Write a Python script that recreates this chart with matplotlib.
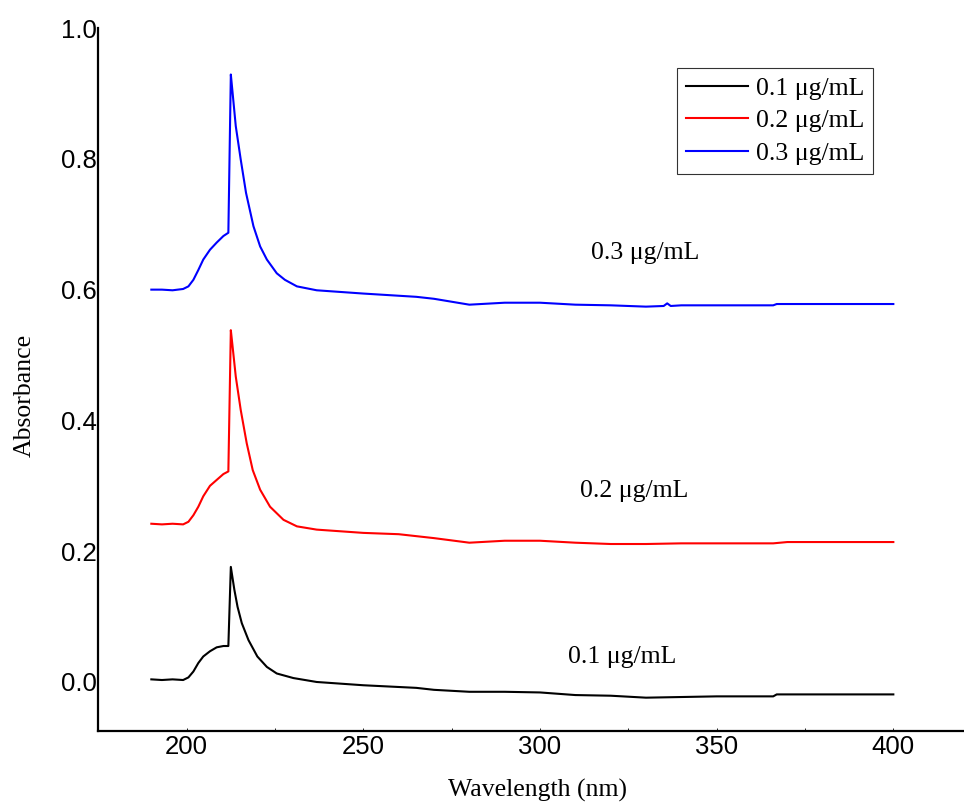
import numpy as np
import matplotlib.pyplot as plt
from matplotlib.ticker import MultipleLocator

# Wavelength (nm) / absorbance
wl_01 = [190, 193, 196, 199, 200.5, 201.9, 203.3, 204.7, 206.6, 208.5, 210.4, 211.8,
         212.5, 213.5, 214.4, 215.6, 217.5, 220.0, 222.7, 225.5, 230.2, 236.8, 250,
         265, 270, 280, 290, 300, 310, 320, 330, 340, 350, 366, 367, 400]
abs_01 = [0.004, 0.003, 0.004, 0.003, 0.007, 0.016, 0.029, 0.039, 0.047, 0.053, 0.055,
          0.055, 0.176, 0.141, 0.115, 0.090, 0.064, 0.039, 0.023, 0.013, 0.006, 0.000,
          -0.005, -0.009, -0.012, -0.015, -0.015, -0.016, -0.020, -0.021, -0.024,
          -0.023, -0.022, -0.022, -0.019, -0.019]

wl_02 = [190, 193, 196, 199, 200.5, 201.9, 203.3, 204.7, 206.6, 208.5, 210.4, 211.8,
         212.5, 212.9, 213.9, 215.3, 217.0, 218.7, 220.8, 223.6, 227.4, 231.2, 236.8,
         250, 260, 270, 280, 290, 300, 310, 320, 330, 340, 350, 366, 370, 400]
abs_02 = [0.242, 0.241, 0.242, 0.241, 0.245, 0.255, 0.268, 0.284, 0.300, 0.309, 0.318,
          0.322, 0.538, 0.518, 0.467, 0.416, 0.365, 0.324, 0.294, 0.268, 0.248, 0.238,
          0.233, 0.228, 0.226, 0.220, 0.213, 0.216, 0.216, 0.213, 0.211, 0.211, 0.212,
          0.212, 0.212, 0.214, 0.214]

wl_03 = [190, 193, 196, 199, 200.5, 201.9, 203.3, 204.7, 206.6, 208.5, 210.4, 211.8,
         212.5, 213.0, 213.9, 215.3, 216.8, 218.9, 220.8, 222.7, 225.5, 227.8, 231.2,
         236.8, 250, 265, 270, 280, 290, 300, 310, 320, 330, 335, 336, 337, 340, 350,
         366, 367, 400]
abs_03 = [0.600, 0.600, 0.599, 0.601, 0.605, 0.615, 0.630, 0.646, 0.661, 0.672, 0.682,
          0.687, 0.929, 0.901, 0.850, 0.799, 0.748, 0.697, 0.666, 0.646, 0.625, 0.615,
          0.605, 0.599, 0.594, 0.589, 0.586, 0.577, 0.580, 0.580, 0.577, 0.576, 0.574,
          0.575, 0.579, 0.575, 0.576, 0.576, 0.576, 0.578, 0.578]

labels = ["0.1 μg/mL", "0.2 μg/mL", "0.3 μg/mL"]
colors = ["black", "red", "blue"]
# where each curve's name is written (wavelength, absorbance)
label_pos = [(323.3, 0.038), (326.7, 0.292), (329.8, 0.656)]

serif = ["Liberation Serif", "DejaVu Serif"]
sans = ["Liberation Sans", "DejaVu Sans"]

fig = plt.figure(figsize=(9.64, 8.02), dpi=100)
ax = fig.add_axes([0.102, 0.0885, 0.898, 0.8765])

for x, y, lab, c in zip([wl_01, wl_02, wl_03], [abs_01, abs_02, abs_03], labels, colors):
    ax.plot(x, y, color=c, lw=1.5, label=lab)

ax.set_xlim(175, 420)
ax.set_ylim(-0.075, 1.0)
ax.xaxis.set_major_locator(MultipleLocator(50))
ax.xaxis.set_minor_locator(MultipleLocator(25))
ax.yaxis.set_major_locator(MultipleLocator(0.2))
ax.yaxis.set_major_formatter(plt.FormatStrFormatter("%.1f"))

for s in ["top", "right"]:
    ax.spines[s].set_visible(False)
for s in ["left", "bottom"]:
    ax.spines[s].set_linewidth(1.6)

ax.tick_params(axis="x", which="both", direction="in", length=2.5, width=0.6, pad=3)
ax.tick_params(axis="y", which="both", length=0, pad=1)
for t in ax.get_xticklabels() + ax.get_yticklabels():
    t.set_fontfamily(sans)
    t.set_fontsize(18.5)

ax.set_xlabel("Wavelength (nm)", family=serif, fontsize=18.5)
ax.set_ylabel("Absorbance", family=serif, fontsize=18.5)
ax.xaxis.set_label_coords(0.507, -0.068)
ax.yaxis.set_label_coords(-0.072, 0.478)

# curve labels
for (x, y), lab in zip(label_pos, labels):
    ax.text(x, y, lab, family=serif, fontsize=18.5, ha="center", va="center")

leg = ax.legend(loc="upper right", bbox_to_anchor=(0.895, 0.943), prop={"family": serif, "size": 18.5},
                frameon=True, fancybox=False, edgecolor="black", handlelength=2.4,
                handletextpad=0.3, borderpad=0.35, labelspacing=0.36, borderaxespad=0)
leg.get_frame().set_linewidth(0.8)

plt.savefig("out.png", dpi=100)
plt.close()
